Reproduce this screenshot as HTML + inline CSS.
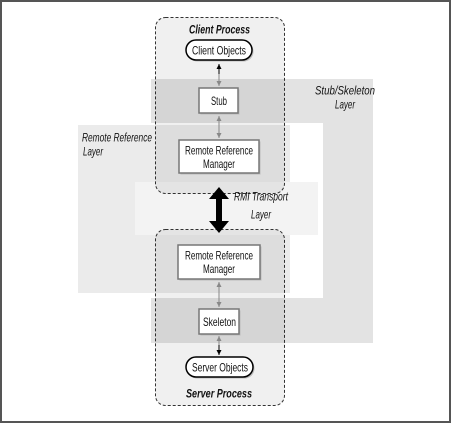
<!DOCTYPE html>
<html><head><style>
html,body{margin:0;padding:0;background:#fff;}
svg{display:block;}
text{font-family:"Liberation Sans Narrow","Liberation Sans",sans-serif;font-size:12px;fill:#111;}
.it{font-style:italic;}
.b{font-weight:bold;}
</style></head><body>
<svg width="452" height="424" viewBox="0 0 452 424" xmlns="http://www.w3.org/2000/svg">
<defs>
<marker id="ab" markerWidth="6" markerHeight="6" refX="5" refY="3" orient="auto"><path d="M0,0.5 L5,3 L0,5.5 Z" fill="#000"/></marker>
<marker id="ag" markerWidth="6" markerHeight="6" refX="5" refY="3" orient="auto"><path d="M0,0.5 L5,3 L0,5.5 Z" fill="#888"/></marker>
</defs>
<rect x="1" y="1" width="449" height="421" fill="#fff" stroke="#555" stroke-width="2"/>
<rect x="151" y="79" width="222" height="264" fill="#e3e3e3"/>
<rect x="129" y="123" width="194" height="175" fill="#fff"/>
<rect x="78" y="125" width="212" height="168" fill="#ebebeb"/>
<rect x="135" y="182" width="183" height="53" fill="#f3f3f3"/>
<rect x="155.5" y="17.5" width="129" height="176" rx="10" fill="#f0f0f0" style="mix-blend-mode:multiply" stroke="#333" stroke-dasharray="3,2"/>
<rect x="155.5" y="229.5" width="129" height="176" rx="10" fill="#f0f0f0" style="mix-blend-mode:multiply" stroke="#333" stroke-dasharray="3,2"/>
<line x1="219" y1="74" x2="219" y2="64" stroke="#000" stroke-width="1" marker-end="url(#ab)"/>
<line x1="219" y1="74" x2="219" y2="86" stroke="#888" stroke-width="1" marker-end="url(#ag)"/>
<line x1="219" y1="126" x2="219" y2="116" stroke="#888" stroke-width="1" marker-end="url(#ag)"/>
<line x1="219" y1="126" x2="219" y2="138" stroke="#888" stroke-width="1" marker-end="url(#ag)"/>
<line x1="219" y1="294" x2="219" y2="282" stroke="#888" stroke-width="1" marker-end="url(#ag)"/>
<line x1="219" y1="294" x2="219" y2="307" stroke="#888" stroke-width="1" marker-end="url(#ag)"/>
<line x1="219" y1="345" x2="219" y2="336" stroke="#888" stroke-width="1" marker-end="url(#ag)"/>
<line x1="219" y1="345" x2="219" y2="355" stroke="#000" stroke-width="1" marker-end="url(#ab)"/>
<path d="M219,187 L229,199 L222,199 L222,221 L229,221 L219,233 L209,221 L216,221 L216,199 L209,199 Z" fill="#000"/>
<rect x="186" y="40" width="66" height="20" rx="10" fill="#bbb" transform="translate(1.5,1.5)"/>
<rect x="186" y="40" width="66" height="20" rx="10" fill="#fff" stroke="#000" stroke-width="1.5"/>
<text x="192" y="54.5" textLength="54" lengthAdjust="spacingAndGlyphs">Client Objects</text>
<rect x="199" y="88" width="39" height="25" fill="#bbb" transform="translate(1.5,1.5)"/>
<rect x="199" y="88" width="39" height="25" fill="#fff" stroke="#777" stroke-width="1.5"/>
<text x="211" y="105" textLength="16" lengthAdjust="spacingAndGlyphs">Stub</text>
<rect x="179" y="140" width="80" height="33" fill="#bbb" transform="translate(1.5,1.5)"/>
<rect x="179" y="140" width="80" height="33" fill="#fff" stroke="#777" stroke-width="1.5"/>
<text x="185" y="154.5" textLength="68" lengthAdjust="spacingAndGlyphs">Remote Reference</text>
<text x="203" y="168" textLength="32" lengthAdjust="spacingAndGlyphs">Manager</text>
<rect x="178" y="245" width="82" height="34" fill="#bbb" transform="translate(1.5,1.5)"/>
<rect x="178" y="245" width="82" height="34" fill="#fff" stroke="#777" stroke-width="1.5"/>
<text x="185" y="259.5" textLength="68" lengthAdjust="spacingAndGlyphs">Remote Reference</text>
<text x="203" y="273" textLength="32" lengthAdjust="spacingAndGlyphs">Manager</text>
<rect x="199" y="309" width="40" height="25" fill="#bbb" transform="translate(1.5,1.5)"/>
<rect x="199" y="309" width="40" height="25" fill="#fff" stroke="#777" stroke-width="1.5"/>
<text x="203" y="326" textLength="33" lengthAdjust="spacingAndGlyphs">Skeleton</text>
<rect x="186" y="357" width="67" height="20" rx="10" fill="#bbb" transform="translate(1.5,1.5)"/>
<rect x="186" y="357" width="67" height="20" rx="10" fill="#fff" stroke="#000" stroke-width="1.5"/>
<text x="192" y="371.5" textLength="56" lengthAdjust="spacingAndGlyphs">Server Objects</text>
<text x="189" y="33.5" class="it b" textLength="61" lengthAdjust="spacingAndGlyphs">Client Process</text>
<text x="186" y="397.5" class="it b" textLength="66" lengthAdjust="spacingAndGlyphs">Server Process</text>
<text x="315" y="94.5" class="it" textLength="60" lengthAdjust="spacingAndGlyphs">Stub/Skeleton</text>
<text x="335" y="108.5" class="it" textLength="20" lengthAdjust="spacingAndGlyphs">Layer</text>
<text x="82" y="141.5" class="it" textLength="70" lengthAdjust="spacingAndGlyphs">Remote Reference</text>
<text x="83" y="155.5" class="it" textLength="20" lengthAdjust="spacingAndGlyphs">Layer</text>
<text x="234" y="200.5" class="it" textLength="54" lengthAdjust="spacingAndGlyphs">RMI Transport</text>
<text x="251" y="218.5" class="it" textLength="20" lengthAdjust="spacingAndGlyphs">Layer</text>
</svg>
</body></html>
